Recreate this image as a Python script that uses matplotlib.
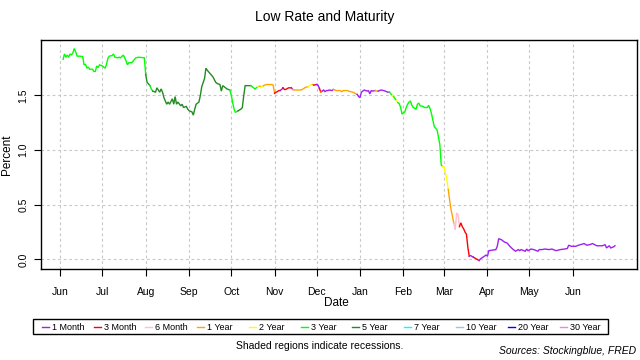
import numpy as np
import pandas as pd
import matplotlib
matplotlib.use("Agg")
import matplotlib.pyplot as plt
from matplotlib.lines import Line2D
from matplotlib.patches import Rectangle

plt.rcParams['font.family'] = ['Liberation Sans', 'DejaVu Sans']

# Legend entries (all maturities) and their colours
mat_keys = ["1M", "3M", "6M", "1Y", "2Y", "3Y", "5Y", "7Y", "10Y", "20Y", "30Y"]
mat_labels = ["1 Month", "3 Month", "6 Month", "1 Year", "2 Year", "3 Year",
              "5 Year", "7 Year", "10 Year", "20 Year", "30 Year"]
mat_colors = ["#A020F0", "#FF0000", "#FFC0CB", "#FFA500", "#FFFF00", "#00FF00",
              "#228B22", "#00FFFF", "#87CEEB", "#0000FF", "#EE82EE"]

# Lowest treasury rate and the maturity that had it
dates = [
    # Jun 2019
    "2019-06-03", "2019-06-04", "2019-06-05", "2019-06-06", "2019-06-07", "2019-06-08",
    "2019-06-09", "2019-06-10", "2019-06-11", "2019-06-12", "2019-06-13", "2019-06-15",
    "2019-06-17", "2019-06-18", "2019-06-19", "2019-06-20", "2019-06-21", "2019-06-22",
    "2019-06-24", "2019-06-25", "2019-06-26", "2019-06-27", "2019-06-28", "2019-06-29",
    # Jul
    "2019-07-01", "2019-07-02", "2019-07-03", "2019-07-04", "2019-07-05", "2019-07-06",
    "2019-07-08", "2019-07-09", "2019-07-10", "2019-07-12", "2019-07-13", "2019-07-14",
    "2019-07-16", "2019-07-17", "2019-07-18", "2019-07-19", "2019-07-20", "2019-07-22",
    "2019-07-23", "2019-07-25", "2019-07-27", "2019-07-31",
    # Aug
    "2019-08-01", "2019-08-02", "2019-08-04", "2019-08-05", "2019-08-06", "2019-08-08",
    "2019-08-09", "2019-08-11", "2019-08-12", "2019-08-13", "2019-08-14", "2019-08-16",
    "2019-08-17", "2019-08-18", "2019-08-20", "2019-08-21", "2019-08-22", "2019-08-23",
    "2019-08-24", "2019-08-26", "2019-08-27", "2019-08-28", "2019-08-30", "2019-08-31",
    # Sep
    "2019-09-01", "2019-09-03", "2019-09-04", "2019-09-05", "2019-09-06", "2019-09-08",
    "2019-09-09", "2019-09-10", "2019-09-12", "2019-09-13", "2019-09-14", "2019-09-16",
    "2019-09-17", "2019-09-18", "2019-09-20", "2019-09-21", "2019-09-23", "2019-09-24",
    "2019-09-25", "2019-09-26", "2019-09-28", "2019-09-30",
    # Oct
    "2019-10-01", "2019-10-02", "2019-10-03", "2019-10-04", "2019-10-06", "2019-10-08",
    "2019-10-09", "2019-10-10", "2019-10-11", "2019-10-15", "2019-10-16", "2019-10-18",
    "2019-10-20", "2019-10-21", "2019-10-22", "2019-10-24", "2019-10-26", "2019-10-30",
    "2019-10-31",
    # Nov
    "2019-11-01", "2019-11-02", "2019-11-03", "2019-11-04", "2019-11-05", "2019-11-06",
    "2019-11-07", "2019-11-08", "2019-11-09", "2019-11-11", "2019-11-13", "2019-11-14",
    "2019-11-15", "2019-11-20", "2019-11-22", "2019-11-23", "2019-11-25", "2019-11-26",
    "2019-11-28", "2019-11-29",
    # Dec
    "2019-12-01", "2019-12-02", "2019-12-03", "2019-12-04", "2019-12-05", "2019-12-06",
    "2019-12-07", "2019-12-08", "2019-12-09", "2019-12-10", "2019-12-12", "2019-12-13",
    "2019-12-14", "2019-12-15", "2019-12-18", "2019-12-19", "2019-12-20", "2019-12-23",
    "2019-12-25", "2019-12-27", "2019-12-29", "2019-12-30", "2019-12-31",
    # Jan 2020
    "2020-01-01", "2020-01-02", "2020-01-03", "2020-01-04", "2020-01-06", "2020-01-07",
    "2020-01-08", "2020-01-09", "2020-01-10", "2020-01-12", "2020-01-13", "2020-01-14",
    "2020-01-15", "2020-01-16", "2020-01-18", "2020-01-19", "2020-01-21", "2020-01-22",
    "2020-01-23", "2020-01-24", "2020-01-25", "2020-01-26", "2020-01-27", "2020-01-28",
    "2020-01-29", "2020-01-30", "2020-01-31",
    # Feb
    "2020-02-01", "2020-02-02", "2020-02-03", "2020-02-04", "2020-02-05", "2020-02-06",
    "2020-02-07", "2020-02-08", "2020-02-10", "2020-02-11", "2020-02-12", "2020-02-13",
    "2020-02-15", "2020-02-16", "2020-02-18", "2020-02-19", "2020-02-20", "2020-02-21",
    "2020-02-22", "2020-02-23", "2020-02-25", "2020-02-26", "2020-02-27", "2020-02-28",
    "2020-02-29",
    # Mar
    "2020-03-01", "2020-03-02", "2020-03-03", "2020-03-04", "2020-03-05", "2020-03-06",
    "2020-03-07", "2020-03-08", "2020-03-09", "2020-03-10", "2020-03-11", "2020-03-12",
    "2020-03-13", "2020-03-14", "2020-03-15", "2020-03-16", "2020-03-17", "2020-03-18",
    "2020-03-19", "2020-03-20", "2020-03-22", "2020-03-26", "2020-03-27", "2020-03-31",
    # Apr
    "2020-04-01", "2020-04-02", "2020-04-07", "2020-04-08", "2020-04-09", "2020-04-11",
    "2020-04-13", "2020-04-15", "2020-04-17", "2020-04-19", "2020-04-21", "2020-04-23",
    "2020-04-24", "2020-04-25", "2020-04-28", "2020-04-29", "2020-04-30",
    # May
    "2020-05-02", "2020-05-04", "2020-05-07", "2020-05-08", "2020-05-10", "2020-05-12",
    "2020-05-15", "2020-05-17", "2020-05-20", "2020-05-23", "2020-05-26", "2020-05-28",
    "2020-05-29", "2020-05-31",
    # Jun / Jul 2020
    "2020-06-03", "2020-06-05", "2020-06-09", "2020-06-11", "2020-06-13", "2020-06-15",
    "2020-06-18", "2020-06-22", "2020-06-24", "2020-06-25", "2020-06-27", "2020-06-28",
    "2020-06-30", "2020-07-01",
]

rates = [
    # Jun 2019
    1.83, 1.88, 1.85, 1.87, 1.85, 1.88, 1.87, 1.89, 1.93, 1.90, 1.86, 1.86,
    1.855, 1.78, 1.785, 1.75, 1.76, 1.74, 1.74, 1.72, 1.72, 1.77, 1.755, 1.78,
    # Jul
    1.77, 1.76, 1.75, 1.785, 1.84, 1.86, 1.865, 1.88, 1.85, 1.845, 1.85, 1.845,
    1.87, 1.845, 1.815, 1.78, 1.80, 1.80, 1.815, 1.845, 1.85, 1.845,
    # Aug
    1.69, 1.62, 1.59, 1.56, 1.54, 1.53, 1.57, 1.53, 1.56, 1.53, 1.48, 1.42,
    1.44, 1.42, 1.47, 1.42, 1.49, 1.42, 1.44, 1.405, 1.42, 1.39, 1.40, 1.375,
    # Sep
    1.36, 1.35, 1.32, 1.375, 1.42, 1.44, 1.50, 1.58, 1.655, 1.75, 1.73, 1.70,
    1.685, 1.67, 1.62, 1.61, 1.60, 1.54, 1.59, 1.58, 1.56, 1.55,
    # Oct
    1.51, 1.44, 1.38, 1.345, 1.36, 1.375, 1.39, 1.50, 1.59, 1.59, 1.58, 1.56,
    1.58, 1.59, 1.59, 1.59, 1.60, 1.60, 1.595,
    # Nov
    1.52, 1.53, 1.535, 1.545, 1.545, 1.555, 1.57, 1.555, 1.555, 1.57, 1.57, 1.555,
    1.55, 1.55, 1.565, 1.575, 1.58, 1.595, 1.60, 1.595,
    # Dec
    1.60, 1.595, 1.565, 1.53, 1.54, 1.55, 1.535, 1.545, 1.545, 1.55, 1.545, 1.555,
    1.55, 1.545, 1.545, 1.535, 1.545, 1.545, 1.535, 1.53, 1.515, 1.51, 1.49,
    # Jan 2020
    1.48, 1.53, 1.54, 1.55, 1.54, 1.545, 1.515, 1.545, 1.54, 1.545, 1.54, 1.54,
    1.545, 1.55, 1.545, 1.54, 1.53, 1.53, 1.515, 1.50, 1.49, 1.47, 1.455, 1.435,
    1.425, 1.39, 1.33,
    # Feb
    1.34, 1.35, 1.39, 1.42, 1.44, 1.45, 1.41, 1.39, 1.375, 1.42, 1.43, 1.405,
    1.40, 1.39, 1.39, 1.41, 1.38, 1.335, 1.275, 1.215, 1.185, 1.12, 1.05, 0.865,
    0.85,
    # Mar
    0.845, 0.79, 0.73, 0.64, 0.54, 0.455, 0.395, 0.33, 0.27, 0.425, 0.41, 0.30,
    0.335, 0.30, 0.28, 0.25, 0.23, 0.11, 0.03, 0.035, 0.02, -0.01, 0.005, 0.04,
    # Apr
    0.03, 0.08, 0.09, 0.12, 0.19, 0.18, 0.16, 0.15, 0.12, 0.095, 0.075, 0.09,
    0.08, 0.09, 0.075, 0.095, 0.08,
    # May
    0.095, 0.09, 0.075, 0.09, 0.09, 0.095, 0.09, 0.095, 0.08, 0.09, 0.095, 0.10,
    0.13, 0.12,
    # Jun / Jul 2020
    0.12, 0.13, 0.145, 0.13, 0.135, 0.145, 0.125, 0.125, 0.135, 0.105, 0.125, 0.105,
    0.115, 0.125,
]

maturity = (
    ["3Y"] * 24                                   # Jun 2019
    + ["3Y"] * 22                                 # Jul
    + ["3Y", "5Y", "5Y", "3Y", "3Y"] + ["5Y"] * 19  # Aug
    + ["5Y"] * 22                                 # Sep
    + ["3Y"] * 5 + ["5Y"] * 5 + ["3Y"] * 3 + ["2Y", "1Y", "2Y"] + ["1Y"] * 3  # Oct
    + ["1Y", "3M", "3M", "3M", "3M", "1M", "1M", "3M", "3M", "3M", "3M", "1M",
       "1Y", "1Y", "1Y", "1Y", "1Y", "2Y", "2Y", "1Y"]                    # Nov
    + ["3M", "1M", "1M", "3M", "1Y"] + ["1M"] * 7 + ["1Y"] * 10 + ["1M"]  # Dec
    + ["1M"] * 10 + ["1Y"] * 2 + ["1M"] * 6
    + ["3Y", "3Y", "2Y", "3Y", "3Y", "2Y", "3Y", "3Y", "3Y"]              # Jan 2020
    + ["3Y"] * 25                                 # Feb
    + ["2Y"] * 4 + ["1Y"] * 4 + ["6M"] * 4 + ["3M"] * 7
    + ["1M", "1M", "3M", "1M", "1M"]              # Mar
    + ["1M"] * 17                                 # Apr
    + ["1M"] * 14                                 # May
    + ["1M"] * 14                                 # Jun / Jul 2020
)

assert len(dates) == len(rates) == len(maturity)

color_of = dict(zip(mat_keys, mat_colors))
x = pd.to_datetime(dates)
y = np.array(rates)


def fx(px):
    return px / 640


def fy(py):
    return 1 - py / 360


fig = plt.figure(figsize=(6.4, 3.6), dpi=100)
ax = fig.add_axes([fx(41), fy(269), fx(637) - fx(41), fy(40) - fy(269)])

# colour each stretch of the line by the maturity holding the lowest rate
start = 0
for i in range(1, len(x) + 1):
    if i == len(x) or maturity[i] != maturity[start]:
        lo = max(start - 1, 0)
        ax.plot(x[lo:i], y[lo:i], color=color_of[maturity[start]], lw=1.0,
                solid_joinstyle="miter")
        start = i

# R-style 4% padding of the data range
span = x[-1] - x[0]
ax.set_xlim(x[0] - 0.04 * span, x[-1] + 0.04 * span)
yr = y.max() - y.min()
ax.set_ylim(y.min() - 0.04 * yr, y.max() + 0.04 * yr)

month_ticks = pd.date_range("2019-06-01", "2020-06-01", freq="MS")
ax.set_xticks(month_ticks)
ax.set_xticklabels([d.strftime("%b") for d in month_ticks])
ax.set_yticks([0.0, 0.5, 1.0, 1.5])
ax.set_yticklabels(["0.0", "0.5", "1.0", "1.5"], rotation=90, va="center")

ax.tick_params(axis="both", direction="out", length=5, width=0.8, colors="black",
               labelsize=7.5)
ax.tick_params(axis="x", pad=8)
ax.tick_params(axis="y", pad=4)

ax.grid(True, color="#c8c8c8", linestyle=(0, (2.5, 2.5)), linewidth=0.8)
ax.set_axisbelow(True)
for s in ax.spines.values():
    s.set_color("black")
    s.set_linewidth(1.0)

fig.text(fx(325), fy(17), "Low Rate and Maturity", ha="center", va="center", fontsize=10)
fig.text(fx(336), fy(303), "Date", ha="center", va="center", fontsize=8.5)
fig.text(fx(7), fy(155), "Percent", ha="center", va="center", fontsize=8.5, rotation=90)

# legend row with equal-width entries
fig.add_artist(Rectangle((fx(33), fy(334)), fx(608) - fx(33), fy(319) - fy(334),
                         transform=fig.transFigure, fill=False, ec="black", lw=1.0))
for k, (lab, col) in enumerate(zip(mat_labels, mat_colors)):
    x0 = 41.7 + 51.8 * k
    fig.add_artist(Line2D([fx(x0), fx(x0 + 7)], [fy(327), fy(327)], color=col, lw=1.0,
                          transform=fig.transFigure))
    fig.text(fx(x0 + 10), fy(327.5), lab, ha="left", va="center", fontsize=6.5)

fig.text(fx(320), fy(346), "Shaded regions indicate recessions.", ha="center",
         va="center", fontsize=7.5)
fig.text(fx(636), fy(351), "Sources: Stockingblue, FRED", ha="right", va="center",
         fontsize=7.5, style="italic")

fig.savefig("out.png", dpi=100)
